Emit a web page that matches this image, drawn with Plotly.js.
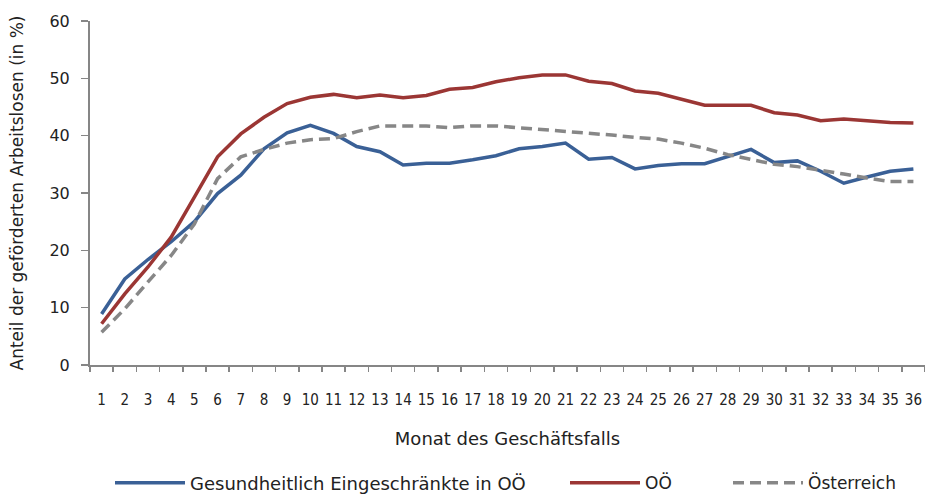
<!DOCTYPE html>
<html><head><meta charset="utf-8">
<script src="https://cdn.plot.ly/plotly-3.0.1.min.js"></script>
<style>body{margin:0;padding:0;background:#fff}#chart{width:925px;height:497px}</style>
</head><body><div id="chart"></div>
<script>
const months = ["1","2","3","4","5","6","7","8","9","10","11","12","13","14","15","16","17","18","19","20","21","22","23","24","25","26","27","28","29","30","31","32","33","34","35","36"];
const gesundheitlich = [8.9,15.0,18.4,21.5,25.0,29.9,33.1,37.7,40.5,41.8,40.4,38.1,37.2,34.9,35.2,35.2,35.8,36.5,37.7,38.1,38.7,35.9,36.2,34.2,34.8,35.1,35.1,36.3,37.6,35.3,35.6,33.8,31.7,32.8,33.8,34.2];
const ooe = [7.2,12.4,17.1,22.3,29.3,36.3,40.3,43.2,45.6,46.7,47.2,46.6,47.1,46.6,47.0,48.1,48.4,49.4,50.1,50.6,50.6,49.5,49.1,47.8,47.4,46.3,45.3,45.3,45.3,44.0,43.6,42.6,42.9,42.6,42.3,42.2];
const oesterreich = [5.7,9.8,14.5,19.1,24.6,32.5,36.3,37.6,38.7,39.3,39.5,40.7,41.7,41.7,41.7,41.4,41.7,41.7,41.4,41.1,40.8,40.5,40.1,39.7,39.4,38.7,37.8,36.7,35.9,35.0,34.6,34.0,33.3,32.6,32.0,32.0];
const names = ["Gesundheitlich Eingeschränkte in OÖ","OÖ","Österreich"];

const FONT = "'DejaVu Sans', sans-serif";
const COND = "'DejaVu Sans Condensed', 'Liberation Sans Narrow', 'DejaVu Sans', sans-serif";
const traces = [
  {x: months, y: gesundheitlich, name: names[0], type: "scatter", mode: "lines", legend: "legend",
   line: {color: "#3A6096", width: 3.5}},
  {x: months, y: ooe, name: names[1], type: "scatter", mode: "lines", legend: "legend2",
   line: {color: "#9B3634", width: 3.5}},
  {x: months, y: oesterreich, name: names[2], type: "scatter", mode: "lines", legend: "legend3",
   line: {color: "#878787", width: 3.5, dash: "11px,6px"}}
];
function leg(x, size) {
  return {orientation: "h", xref: "container", yref: "container", x: x, y: 0.028,
          xanchor: "left", yanchor: "middle", font: {family: FONT, size: size, color: "#222"},
          itemwidth: 70, bgcolor: "rgba(0,0,0,0)"};
}
const layout = {
  width: 925, height: 497,
  margin: {l: 90, r: 0, t: 21, b: 132},
  paper_bgcolor: "#fff", plot_bgcolor: "#fff",
  font: {family: FONT, size: 15, color: "#222"},
  showlegend: true,
  legend: leg(110/925, 18), legend2: leg(565/925, 17), legend3: leg(728/925, 17),
  xaxis: {type: "category", range: [-0.5, 35.5], showline: true, linecolor: "#868686", linewidth: 2,
          ticks: "outside", tickson: "boundaries", ticklen: 5, tickcolor: "#868686", tickwidth: 1.5,
          showgrid: false, zeroline: false, tickangle: 0, ticklabelstandoff: 20,
          tickfont: {family: COND, size: 15},
          title: {text: "Monat des Geschäftsfalls", font: {size: 18}, standoff: 24}},
  yaxis: {range: [0, 60], dtick: 10, showline: true, linecolor: "#868686", linewidth: 2,
          ticks: "outside", ticklen: 7, tickcolor: "#868686", tickwidth: 1.5, showgrid: false, zeroline: false,
          tickfont: {size: 16}, ticklabelstandoff: 8,
          title: {text: "Anteil der geförderten Arbeitslosen (in %)", font: {size: 17}, standoff: 21}}
};
Plotly.newPlot("chart", traces, layout, {displayModeBar: false, staticPlot: true});
</script></body></html>
